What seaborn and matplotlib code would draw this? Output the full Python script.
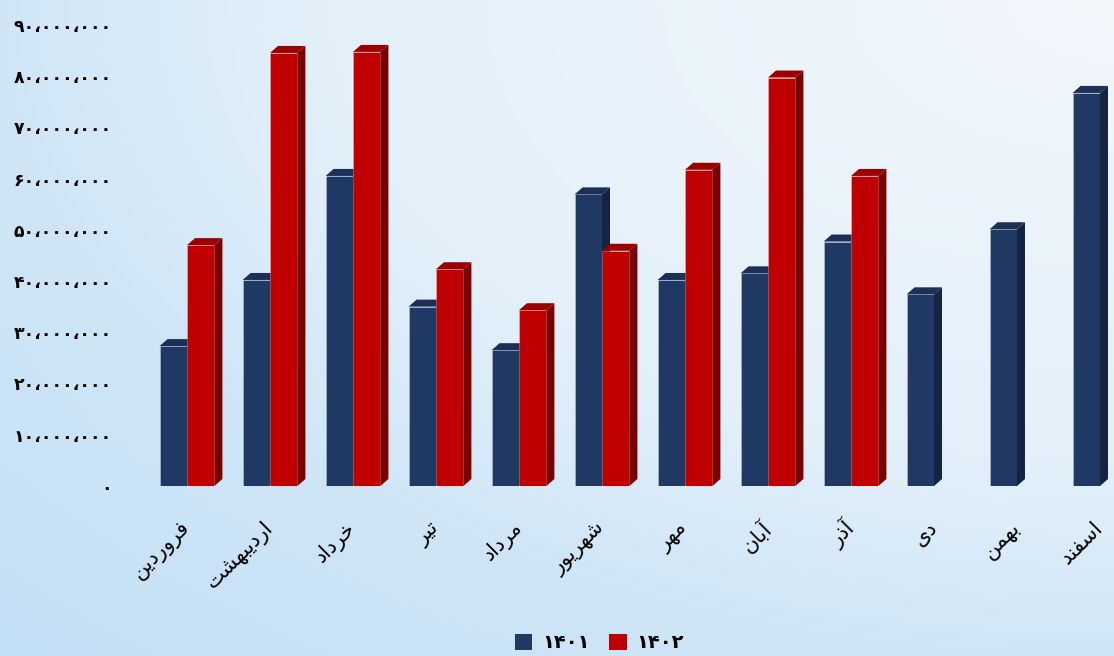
import numpy as np
import pandas as pd
import matplotlib
matplotlib.use("Agg")
import matplotlib.pyplot as plt
from matplotlib.patches import Polygon, Patch
import seaborn as sns

# ---- data -------------------------------------------------------------
months = ["فروردین", "اردیبهشت", "خرداد", "تیر", "مرداد", "شهریور",
          "مهر", "آبان", "آذر", "دی", "بهمن", "اسفند"]
sales_1401 = [27.3, 40.2, 60.5, 35.0, 26.5, 56.9, 40.2, 41.5, 47.7, 37.4, 50.1, 76.7]  # million
sales_1402 = [47.0, 84.5, 84.7, 42.3, 34.3, 45.9, 61.7, 79.7, 60.5]                    # million
years = ["۱۴۰۱", "۱۴۰۲"]
y_ticks = [0, 10, 20, 30, 40, 50, 60, 70, 80, 90]
y_tick_labels = ["۰", "۱۰،۰۰۰،۰۰۰", "۲۰،۰۰۰،۰۰۰", "۳۰،۰۰۰،۰۰۰", "۴۰،۰۰۰،۰۰۰",
                 "۵۰،۰۰۰،۰۰۰", "۶۰،۰۰۰،۰۰۰", "۷۰،۰۰۰،۰۰۰", "۸۰،۰۰۰،۰۰۰", "۹۰،۰۰۰،۰۰۰"]

front_colors = {"۱۴۰۱": "#1f3864", "۱۴۰۲": "#c00000"}
top_colors = {"۱۴۰۱": "#1c2f56", "۱۴۰۲": "#9c0000"}
side_colors = {"۱۴۰۱": "#152440", "۱۴۰۲": "#7a0000"}

# ---- minimal Persian shaping (presentation forms + RTL order) ----------
DUAL = {
    "ب": "\uFE8F\uFE90\uFE91\uFE92", "پ": "\uFB56\uFB57\uFB58\uFB59",
    "ت": "\uFE95\uFE96\uFE97\uFE98", "ث": "\uFE99\uFE9A\uFE9B\uFE9C",
    "ج": "\uFE9D\uFE9E\uFE9F\uFEA0", "ح": "\uFEA1\uFEA2\uFEA3\uFEA4",
    "خ": "\uFEA5\uFEA6\uFEA7\uFEA8", "س": "\uFEB1\uFEB2\uFEB3\uFEB4",
    "ش": "\uFEB5\uFEB6\uFEB7\uFEB8", "ف": "\uFED1\uFED2\uFED3\uFED4",
    "ق": "\uFED5\uFED6\uFED7\uFED8", "ک": "\uFB8E\uFB8F\uFB90\uFB91",
    "گ": "\uFB92\uFB93\uFB94\uFB95", "ل": "\uFEDD\uFEDE\uFEDF\uFEE0",
    "م": "\uFEE1\uFEE2\uFEE3\uFEE4", "ن": "\uFEE5\uFEE6\uFEE7\uFEE8",
    "ه": "\uFEE9\uFEEA\uFEEB\uFEEC", "ی": "\uFBFC\uFBFD\uFBFE\uFBFF",
}
RIGHT = {
    "ا": "\uFE8D\uFE8E", "آ": "\uFE81\uFE82", "د": "\uFEA9\uFEAA",
    "ذ": "\uFEAB\uFEAC", "ر": "\uFEAD\uFEAE", "ز": "\uFEAF\uFEB0",
    "و": "\uFEED\uFEEE",
}


def shape(word):
    out = []
    for i, ch in enumerate(word):
        prev = word[i - 1] if i > 0 else None
        nxt = word[i + 1] if i < len(word) - 1 else None
        joins_prev = prev in DUAL and (ch in DUAL or ch in RIGHT)
        joins_next = ch in DUAL and nxt is not None and (nxt in DUAL or nxt in RIGHT)
        if ch in DUAL:
            iso, fin, ini, med = DUAL[ch]
            out.append(med if joins_prev and joins_next else fin if joins_prev
                       else ini if joins_next else iso)
        elif ch in RIGHT:
            iso, fin = RIGHT[ch]
            out.append(fin if joins_prev else iso)
        else:
            out.append(ch)
    return "".join(reversed(out))


# ---- long table for seaborn ---------------------------------------------
rows = [(m, years[0], v) for m, v in zip(months, sales_1401)]
rows += [(m, years[1], v) for m, v in zip(months, sales_1402)]
df = pd.DataFrame(rows, columns=["month", "year", "value"])

sns.set_theme(style="white")
plt.rcParams["font.family"] = ["DejaVu Sans"]

W, H = 1114, 656
fig = plt.figure(figsize=(W / 100, H / 100), dpi=100)

# background gradient, lighter toward the upper right
bg = fig.add_axes([0, 0, 1, 1], zorder=-10)
xx, yy = np.meshgrid(np.linspace(0, 1, 400), np.linspace(0, 1, 240))
d = np.sqrt((1 - xx) ** 2 + yy ** 2) / np.sqrt(2)
stops = np.array([0.0, 0.5, 0.707, 1.0])
cols = np.array([[0xf2, 0xf7, 0xfc], [0xe3, 0xf0, 0xfa],
                 [0xd0, 0xe6, 0xf7], [0xc3, 0xdf, 0xf5]]) / 255
img = np.stack([np.interp(d, stops, cols[:, k]) for k in range(3)], axis=-1)
bg.imshow(img, aspect="auto", extent=[0, 1, 0, 1], origin="upper")
bg.set_axis_off()

ax_left, ax_right = 120, 1114
ax_bottom, ax_top = 486, 15
ax = fig.add_axes([ax_left / W, (H - ax_bottom) / H,
                   (ax_right - ax_left) / W, (ax_bottom - ax_top) / H])
ax.patch.set_alpha(0)

sns.barplot(data=df, x="month", y="value", hue="year", order=months,
            hue_order=years, palette=front_colors, saturation=1,
            width=0.66, errorbar=None, ax=ax, legend=False,
            edgecolor=(1, 1, 1, 0.3), linewidth=0.6)

px_per_cat = 83.0
ax.set_xlim((ax_left - 187) / px_per_cat, (ax_right - 187) / px_per_cat)
ax.set_ylim(0, (ax_bottom - ax_top) / 5.125)

# depth of the 3D faces in data units
p0 = ax.transData.transform((0, 0))
p1 = ax.transData.transform((1, 1))
dx = 8.0 / (p1[0] - p0[0])
dy = 7.0 / (p1[1] - p0[1])

# each series: front faces from seaborn, then top and right faces on top;
# the later series is stacked above so it hides the earlier side faces
for k, (year, cont) in enumerate(zip(years, ax.containers)):
    z = 2 + 2 * k
    for bar in cont:
        h = bar.get_height()
        if not np.isfinite(h) or h <= 0:
            continue
        bar.set_zorder(z)
        x0 = bar.get_x()
        x1 = x0 + bar.get_width()
        ax.add_patch(Polygon([(x0, h), (x1, h), (x1 + dx, h + dy), (x0 + dx, h + dy)],
                             closed=True, facecolor=top_colors[year], edgecolor="none",
                             zorder=z + 0.5, clip_on=False))
        ax.add_patch(Polygon([(x1, 0), (x1 + dx, dy), (x1 + dx, h + dy), (x1, h)],
                             closed=True, facecolor=side_colors[year], edgecolor="none",
                             zorder=z + 0.5, clip_on=False))

sns.despine(ax=ax, left=True, bottom=True)
ax.set_xlabel("")
ax.set_ylabel("")
ax.set_yticks(y_ticks)
ax.set_yticklabels(y_tick_labels, fontsize=12.5, fontweight="bold", color="black")
ax.set_xticks(range(len(months)))
ax.set_xticklabels([shape(m) for m in months], fontsize=15, rotation=45,
                   ha="right", va="center", rotation_mode="anchor", color="black")
ax.tick_params(axis="x", length=0, pad=28)
ax.tick_params(axis="y", length=0, pad=6)

handles = [Patch(facecolor=front_colors[y], edgecolor="none") for y in years]
fig.legend(handles, years, loc="center", bbox_to_anchor=(0.538, 0.02), ncol=2,
           frameon=False, handlelength=0.9, handleheight=0.9, handletextpad=0.5,
           columnspacing=1.0, labelcolor="black",
           prop={"weight": "bold", "size": 14})

fig.savefig("out.png", dpi=100)
